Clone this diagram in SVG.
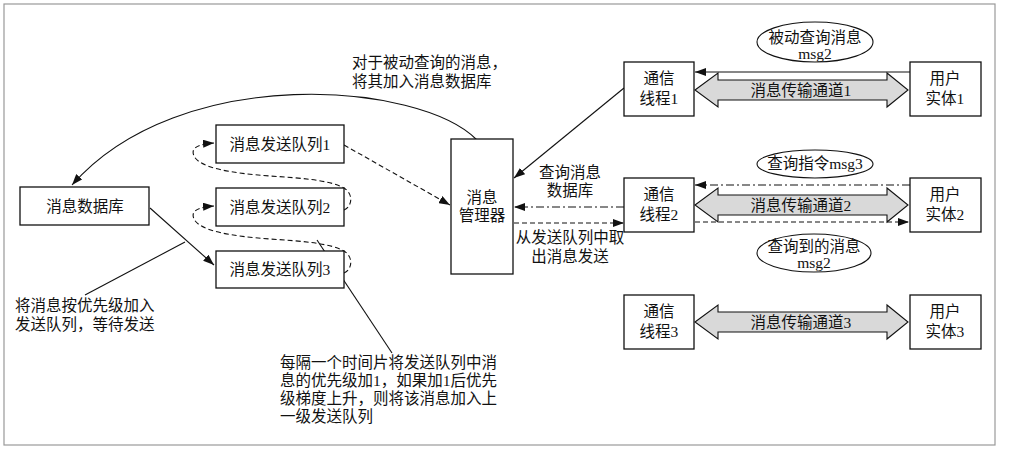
<svg xmlns="http://www.w3.org/2000/svg" width="1012" height="454" viewBox="0 0 1012 454">
<style>
text{font-family:"Liberation Serif","Noto Sans CJK SC",serif;font-size:15.5px;fill:#111;}
.c{text-anchor:middle;}
.box{fill:#fff;stroke:#111;stroke-width:1.3;}
.ln{fill:none;stroke:#111;stroke-width:1.1;}
.dash{fill:none;stroke:#111;stroke-width:1.1;stroke-dasharray:5,3;}
.dd{fill:none;stroke:#111;stroke-width:1.1;stroke-dasharray:8,3,2,3;}
.fat{fill:#d9d9d9;stroke:#111;stroke-width:1.1;}
.ell{fill:#fff;stroke:#111;stroke-width:1.1;}
</style>
<defs>
<marker id="ah" markerUnits="userSpaceOnUse" markerWidth="11" markerHeight="8" refX="11" refY="4" orient="auto">
<path d="M0,0 L11,4 L0,8 z" fill="#111"/>
</marker>
</defs>
<rect x="4" y="4" width="991" height="441" fill="#fff" stroke="#999" stroke-width="1.2"/>

<g id="connectors">
<path class="ln" d="M477,140 C420,82 180,62 72,185" marker-end="url(#ah)"/>
<path class="ln" d="M150,208 L214,265" marker-end="url(#ah)"/>
<path class="ln" d="M85,295 L185,242"/>
<path class="ln" d="M317,240 L392,353"/>
<path class="dash" d="M344,210 C352,207 354,194 344,188 C330,180 300,178 270,176 C230,173 200,168 194,156 C190,147 200,144 214,143" marker-end="url(#ah)"/>
<path class="dash" d="M344,273 C352,270 354,257 344,251 C330,243 300,241 270,239 C230,236 200,231 194,219 C190,210 200,207 214,206" marker-end="url(#ah)"/>
<path class="dash" d="M344,145 L450,205" marker-end="url(#ah)"/>
<path class="ln" d="M624,88 L514,178" marker-end="url(#ah)"/>
<path class="dd" d="M624,207 L514,207" marker-end="url(#ah)"/>
<path class="dash" d="M514,223 L624,223" marker-end="url(#ah)"/>
<path class="ln" d="M910,72 L695,72" marker-end="url(#ah)"/>
<path class="dd" d="M910,185 L695,185" marker-end="url(#ah)"/>
<path class="dash" d="M695,222 L909,222" marker-end="url(#ah)"/>
</g>

<g id="channel1">
<path class="fat" d="M695,90 L718,73 L718,80 L887,80 L887,73 L908,90 L887,107 L887,100 L718,100 L718,107 Z"/>
<text class="c" x="801" y="96">消息传输通道1</text>
</g>
<g id="channel2">
<path class="fat" d="M695,205 L718,188 L718,195 L887,195 L887,188 L908,205 L887,222 L887,215 L718,215 L718,222 Z"/>
<text class="c" x="801" y="211">消息传输通道2</text>
</g>
<g id="channel3">
<path class="fat" d="M695,322 L718,305 L718,312 L887,312 L887,305 L908,322 L887,339 L887,332 L718,332 L718,339 Z"/>
<text class="c" x="801" y="328">消息传输通道3</text>
</g>

<g id="db">
<rect class="box" x="20" y="187" width="129" height="38"/>
<text class="c" x="85" y="212">消息数据库</text>
</g>
<g id="queue1">
<rect class="box" x="216" y="125" width="128" height="38"/>
<text class="c" x="280" y="150">消息发送队列1</text>
</g>
<g id="queue2">
<rect class="box" x="216" y="188" width="128" height="38"/>
<text class="c" x="280" y="213">消息发送队列2</text>
</g>
<g id="queue3">
<rect class="box" x="216" y="251" width="128" height="37"/>
<text class="c" x="280" y="275">消息发送队列3</text>
</g>
<g id="manager">
<rect class="box" x="451" y="139" width="62" height="135"/>
<text class="c" x="482" y="203">消息</text>
<text class="c" x="482" y="221">管理器</text>
</g>
<g id="thread1">
<rect class="box" x="624" y="62" width="70" height="54"/>
<text class="c" x="659" y="84">通信</text>
<text class="c" x="659" y="104">线程1</text>
</g>
<g id="thread2">
<rect class="box" x="624" y="178" width="70" height="54"/>
<text class="c" x="659" y="200">通信</text>
<text class="c" x="659" y="220">线程2</text>
</g>
<g id="thread3">
<rect class="box" x="624" y="295" width="70" height="54"/>
<text class="c" x="659" y="317">通信</text>
<text class="c" x="659" y="337">线程3</text>
</g>
<g id="user1">
<rect class="box" x="910" y="62" width="71" height="54"/>
<text class="c" x="945" y="84">用户</text>
<text class="c" x="945" y="104">实体1</text>
</g>
<g id="user2">
<rect class="box" x="910" y="178" width="71" height="54"/>
<text class="c" x="945" y="200">用户</text>
<text class="c" x="945" y="220">实体2</text>
</g>
<g id="user3">
<rect class="box" x="910" y="295" width="71" height="54"/>
<text class="c" x="945" y="317">用户</text>
<text class="c" x="945" y="337">实体3</text>
</g>
<g id="msg-passive">
<ellipse class="ell" cx="815" cy="42" rx="58" ry="20"/>
<text class="c" x="815" y="43">被动查询消息</text>
<text class="c" x="815" y="59">msg2</text>
</g>
<g id="msg-query">
<ellipse class="ell" cx="815" cy="164" rx="58" ry="14"/>
<text class="c" x="815" y="169">查询指令msg3</text>
</g>
<g id="msg-result">
<ellipse class="ell" cx="814" cy="253" rx="57" ry="19"/>
<text class="c" x="814" y="252">查询到的消息</text>
<text class="c" x="814" y="268">msg2</text>
</g>

<g id="labels">
<text x="352" y="68">对于被动查询的消息，</text>
<text x="352" y="87">将其加入消息数据库</text>
<text class="c" x="570" y="178">查询消息</text>
<text class="c" x="570" y="196">数据库</text>
<text class="c" x="570" y="243">从发送队列中取</text>
<text class="c" x="570" y="262">出消息发送</text>
<text x="15" y="311">将消息按优先级加入</text>
<text x="15" y="330">发送队列，等待发送</text>
<text x="280" y="368">每隔一个时间片将发送队列中消</text>
<text x="280" y="386">息的优先级加1，如果加1后优先</text>
<text x="280" y="404">级梯度上升，则将该消息加入上</text>
<text x="280" y="422">一级发送队列</text>
</g>
</svg>
